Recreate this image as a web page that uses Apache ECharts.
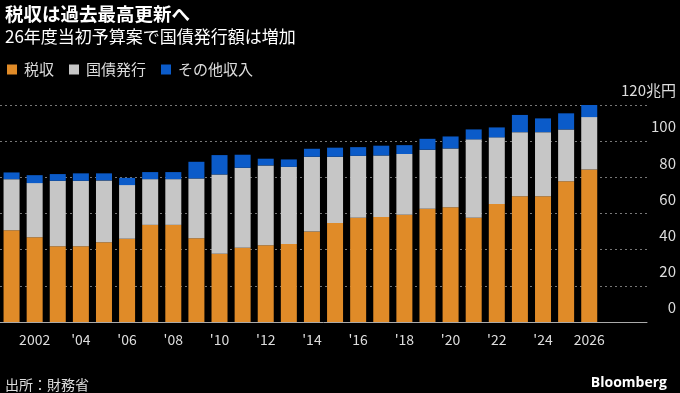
<!DOCTYPE html>
<html>
<head>
<meta charset="utf-8">
<script src="https://cdn.jsdelivr.net/npm/echarts@6/dist/echarts.min.js"></script>
<style>
  html, body { margin: 0; padding: 0; background: #000; }
  #chart { width: 680px; height: 393px; }
</style>
</head>
<body>
<div id="chart"></div>
<script>
// Fiscal years (initial budget), 兆円
const years = ['2001','2002','2003','2004','2005','2006','2007','2008','2009','2010','2011','2012','2013',
               '2014','2015','2016','2017','2018','2019','2020','2021','2022','2023','2024','2025','2026'];
const tickLabels = {'2002':'2002','2004':"'04",'2006':"'06",'2008':"'08",'2010':"'10",'2012':"'12",
                    '2014':"'14",'2016':"'16",'2018':"'18",'2020':"'20",'2022':"'22",'2024':"'24",'2026':'2026'};
const taxRevenue = [50.8, 46.9, 41.9, 41.9, 44.1, 46.0, 53.7, 53.7, 46.3, 37.7, 41.0, 42.5, 43.2,
                    50.0, 54.7, 57.6, 58.0, 59.3, 62.6, 63.5, 57.6, 65.2, 69.6, 69.6, 77.9, 84.4];
const bondIssuance = [28.2, 29.9, 36.2, 36.2, 34.2, 29.7, 25.3, 25.3, 33.1, 43.9, 44.3, 44.1, 42.6,
                      41.4, 36.7, 34.3, 34.1, 33.6, 32.7, 32.5, 43.4, 36.9, 35.4, 35.4, 28.6, 28.9];
const otherRevenue = [3.7, 4.4, 3.7, 4.1, 3.9, 4.0, 3.9, 3.9, 9.2, 10.7, 7.2, 3.7, 4.1,
                      4.4, 5.0, 4.8, 5.4, 4.9, 6.0, 6.6, 5.5, 5.5, 9.5, 7.6, 8.9, 9.1];
const seriesNames = ['税収', '国債発行', 'その他収入'];
const yTicks = {0:'0', 20:'20', 40:'40', 60:'60', 80:'80', 100:'100', 120:'120兆円'};

const FONT = '"Noto Sans CJK JP", "Noto Sans", sans-serif';
const colors = ['#E08B28', '#C6C6C6', '#0B5BC9'];

const chart = echarts.init(document.getElementById('chart'), null, { renderer: 'canvas' });
const showTick = (idx, val) => tickLabels.hasOwnProperty(val);

chart.setOption({
  backgroundColor: '#000',
  animation: false,
  color: colors,
  textStyle: { fontFamily: FONT },
  title: [
    { text: '税収は過去最高更新へ', left: 0, top: 0,
      textStyle: { color: '#fff', fontSize: 18.5, fontWeight: 'bold', fontFamily: FONT } },
    { text: '26年度当初予算案で国債発行額は増加', left: 0, top: 23,
      textStyle: { color: '#fff', fontSize: 17, fontWeight: 'normal', fontFamily: FONT } },
    { text: '出所：財務省', left: 0, top: 373,
      textStyle: { color: '#ddd', fontSize: 14, fontWeight: 'normal', fontFamily: FONT } },
    { text: 'Bloomberg', right: 8, top: 371,
      textStyle: { color: '#fff', fontSize: 14, fontWeight: 'bold', fontFamily: '"Open Sans", sans-serif' } }
  ],
  legend: {
    left: 2, top: 57,
    icon: 'rect', itemWidth: 10, itemHeight: 10, itemGap: 15,
    textStyle: { color: '#ddd', fontSize: 15, fontFamily: FONT, padding: [0, 0, 0, 2] },
    data: seriesNames
  },
  grid: { left: -4, right: 33, top: 105, bottom: 71 },
  xAxis: {
    type: 'category',
    data: years,
    max: years.length + 1,
    axisLine: { lineStyle: { color: '#aaa', width: 1 } },
    axisTick: { alignWithLabel: true, interval: showTick, length: 6, lineStyle: { color: '#aaa' } },
    axisLabel: {
      interval: showTick, color: '#ddd', fontSize: 14, margin: 11, fontFamily: FONT,
      formatter: v => tickLabels[v] || ''
    }
  },
  yAxis: {
    type: 'value', position: 'right', min: 0, max: 120, interval: 20,
    axisLine: { show: false }, axisTick: { show: false },
    splitLine: { lineStyle: { color: '#777', type: [2, 3], width: 1 } },
    axisLabel: {
      color: '#ddd', fontSize: 15, align: 'right', verticalAlign: 'bottom', margin: 29,
      padding: [0, 0, 7, 0], fontFamily: FONT,
      formatter: v => yTicks[v]
    }
  },
  series: [
    { name: seriesNames[0], type: 'bar', stack: 'total', data: taxRevenue, barWidth: 16 },
    { name: seriesNames[1], type: 'bar', stack: 'total', data: bondIssuance, barWidth: 16 },
    { name: seriesNames[2], type: 'bar', stack: 'total', data: otherRevenue, barWidth: 16 }
  ]
});
</script>
</body>
</html>
